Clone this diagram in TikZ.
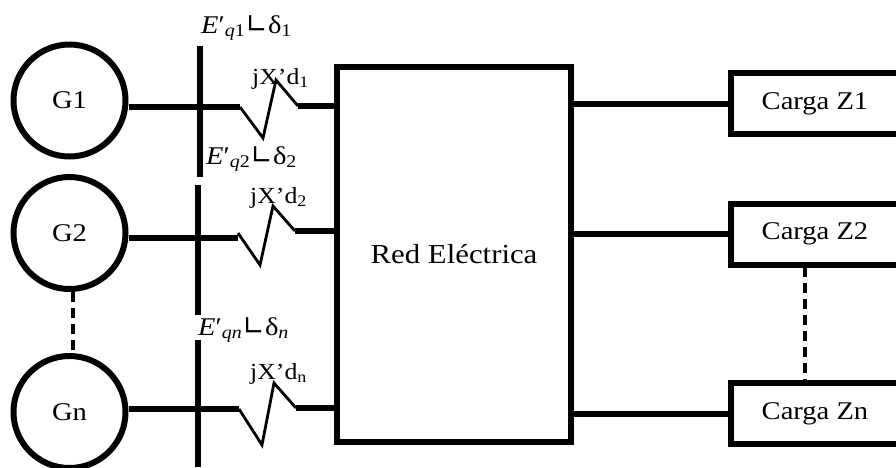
\documentclass[tikz,border=0pt]{standalone}
\usepackage{fontspec}
\setmainfont{Liberation Serif}[FakeStretch=1.12]
\newfontfamily\symbolfont{DejaVu Sans}
\usetikzlibrary{positioning}

\newcommand{\busvolt}[2]{{\itshape E}′\textsubscript{#1}{\symbolfont\fontsize{27}{30}\selectfont ∟}δ\textsubscript{#2}}

\begin{document}
\begin{tikzpicture}[
  x=1pt,
  y=-1pt,
  font=\fontsize{25.5}{30}\selectfont,
  gen/.style={
    draw,
    circle,
    line width=6pt,
    minimum size=112pt,
    inner sep=0pt
  },
  carga/.style={
    draw,
    rectangle,
    line width=6pt,
    minimum width=168pt,
    minimum height=61pt,
    inner sep=0pt
  },
  red/.style={
    draw,
    rectangle,
    line width=6pt,
    font=\fontsize{27.5}{30}\selectfont,
    minimum width=234pt,
    minimum height=375pt
  },
  label/.style={
    anchor=base west,
    inner sep=0pt
  },
  imped/.style={
    label,
    font=\fontsize{23}{28}\selectfont
  },
  bus/.style={line width=6pt},
  feeder/.style={line width=6pt},
  reactance/.style={line width=2.8pt, line join=miter},
  dots/.style={line width=4.5pt, dash pattern=on 10pt off 6pt}
  ]
  \clip (0, 0) rectangle (896, 467);

  \node [gen] (G1) at (69.5, 100.5) {G1};
  \node [gen] (G2) at (69.5, 233) {G2};
  \node [gen] (Gn) at (69.5, 412) {Gn};
  \node [red] (Red) at (454, 254.5) {Red Eléctrica};
  \node [carga] (Z1) at (815, 103.7) {Carga Z1};
  \node [carga] (Z2) at (815, 234) {Carga Z2};
  \node [carga] (Zn) at (815, 413.7) {Carga Zn};

  \node [label] (V1) at (201, 33) {\busvolt{\textit{q}1}{1}};
  \node [label] (V2) at (206, 164) {\busvolt{\textit{q}2}{2}};
  \node [label] (Vn) at (198, 335) {\busvolt{\textit{qn}}{\itshape n}};
  \node [imped] (X1) at (252, 84) {jX’d\textsubscript{1}};
  \node [imped] (X2) at (250, 203) {jX’d\textsubscript{2}};
  \node [imped] (Xn) at (250, 379) {jX’d\textsubscript{n}};

  \coordinate (Bus1a) at (200, 46);
  \coordinate (Bus1b) at (200, 177);
  \coordinate (Bus2a) at (198, 185);
  \coordinate (Bus2b) at (198, 315);
  \coordinate (Busna) at (198, 340);
  \coordinate (Busnb) at (198, 467);
  \coordinate (J1) at (240, 107);
  \coordinate (J2) at (238, 238);
  \coordinate (Jn) at (239, 409);
  \coordinate (K1) at (298, 106);
  \coordinate (K2) at (295, 231);
  \coordinate (Kn) at (296, 408);

  \draw [bus] (Bus1a) -- (Bus1b);
  \draw [bus] (Bus2a) -- (Bus2b);
  \draw [bus] (Busna) -- (Busnb);

  \draw [feeder] (G1.east |- J1) -- (J1);
  \draw [feeder] (G2.east |- J2) -- (J2);
  \draw [feeder] (Gn.east |- Jn) -- (Jn);
  \draw [feeder] (K1) -- (Red.west |- K1);
  \draw [feeder] (K2) -- (Red.west |- K2);
  \draw [feeder] (Kn) -- (Red.west |- Kn);

  \draw [reactance] (J1) -- ++(23, 31) -- ++(13, -58) -- (K1);
  \draw [reactance] (238, 233) -- ++(22, 32) -- ++(13, -59) -- (K2);
  \draw [reactance] (Jn) -- ++(23, 36) -- ++(12, -62) -- (Kn);

  \draw [feeder] (Red.east |- Z1) -- (Z1.west);
  \draw [feeder] (Red.east |- Z2) -- (Z2.west);
  \draw [feeder] (Red.east |- Zn) -- (Zn.west);

  \draw [dots] (G2.south -| 73, 0) -- (Gn.north -| 73, 0);
  \draw [dots] (805, 267) -- (805, 381);
\end{tikzpicture}
\end{document}
